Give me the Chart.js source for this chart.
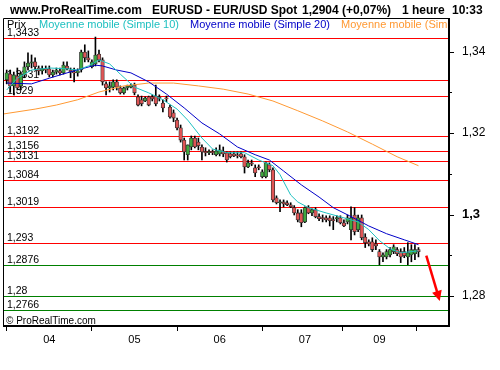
<!DOCTYPE html>
<html>
<head>
  <title>EURUSD - EUR/USD Spot</title>
  <script src="https://cdn.jsdelivr.net/npm/chart.js"></script>
  <style>
    body { margin: 0; background: #fff; }
  </style>
</head>
<body>
  <canvas id="chart" width="500" height="370"></canvas>
  <script>
// hourly candles, 03 12:00 -> 09 10:00
var openP = [1.3331,1.3345,1.3316,1.3340,1.3316,1.3343,1.3363,1.3372,1.3375,1.3360,
  1.3353,1.3358,1.3358,1.3343,1.3350,1.3353,1.3348,1.3365,1.3355,1.3350,
  1.3348,1.3355,1.3399,1.3385,1.3363,1.3370,1.3394,1.3380,1.3321,1.3311,
  1.3313,1.3326,1.3311,1.3299,1.3311,1.3313,1.3318,1.3289,1.3282,1.3279,
  1.3289,1.3289,1.3291,1.3289,1.3274,1.3286,1.3264,1.3250,1.3232,1.3213,
  1.3183,1.3147,1.3166,1.3188,1.3178,1.3166,1.3154,1.3152,1.3154,1.3147,
  1.3149,1.3154,1.3152,1.3149,1.3149,1.3147,1.3149,1.3142,1.3117,1.3127,
  1.3115,1.3117,1.3093,1.3093,1.3122,1.3110,1.3041,1.3029,1.3031,1.3029,
  1.3024,1.3017,1.3004,1.3004,1.2982,1.3017,1.3004,1.3012,1.2995,1.2992,
  1.2992,1.2992,1.2987,1.2990,1.2992,1.2980,1.2982,1.2963,1.2999,1.2963,
  1.2992,1.2945,1.2933,1.2933,1.2928,1.2909,1.2896,1.2896,1.2901,1.2909,
  1.2914,1.2909,1.2909,1.2896,1.2901,1.2904,1.2914];
var highP = [1.3355,1.3355,1.3350,1.3360,1.3350,1.3375,1.3397,1.3392,1.3385,1.3365,
  1.3365,1.3365,1.3365,1.3355,1.3360,1.3360,1.3375,1.3375,1.3360,1.3360,
  1.3358,1.3404,1.3417,1.3402,1.3380,1.3436,1.3404,1.3385,1.3326,1.3326,
  1.3331,1.3331,1.3316,1.3313,1.3318,1.3321,1.3323,1.3294,1.3291,1.3289,
  1.3291,1.3294,1.3318,1.3294,1.3282,1.3291,1.3269,1.3257,1.3237,1.3220,
  1.3188,1.3171,1.3193,1.3193,1.3188,1.3171,1.3164,1.3159,1.3159,1.3164,
  1.3171,1.3166,1.3154,1.3154,1.3154,1.3154,1.3154,1.3147,1.3134,1.3134,
  1.3122,1.3122,1.3110,1.3129,1.3127,1.3115,1.3046,1.3036,1.3036,1.3034,
  1.3029,1.3022,1.3012,1.3012,1.3019,1.3022,1.3014,1.3017,1.3002,1.2999,
  1.2997,1.2997,1.2995,1.2997,1.2997,1.2987,1.2999,1.3019,1.3017,1.2999,
  1.2999,1.2953,1.2938,1.2943,1.2938,1.2914,1.2906,1.2914,1.2919,1.2926,
  1.2919,1.2916,1.2919,1.2931,1.2926,1.2926,1.2919];
var lowP = [1.3321,1.3301,1.3294,1.3306,1.3306,1.3336,1.3355,1.3360,1.3355,1.3343,
  1.3345,1.3348,1.3338,1.3338,1.3345,1.3343,1.3345,1.3355,1.3336,1.3326,
  1.3340,1.3350,1.3375,1.3375,1.3360,1.3365,1.3375,1.3318,1.3294,1.3301,
  1.3306,1.3306,1.3296,1.3296,1.3306,1.3311,1.3294,1.3267,1.3267,1.3277,
  1.3267,1.3279,1.3267,1.3279,1.3252,1.3277,1.3237,1.3228,1.3208,1.3178,
  1.3134,1.3134,1.3159,1.3164,1.3159,1.3134,1.3144,1.3147,1.3147,1.3144,
  1.3144,1.3142,1.3129,1.3139,1.3142,1.3139,1.3139,1.3102,1.3115,1.3120,
  1.3093,1.3110,1.3090,1.3090,1.3105,1.3031,1.3026,1.3007,1.3019,1.3022,
  1.3017,1.2999,1.2982,1.2970,1.2980,1.3002,1.2997,1.2992,1.2985,1.2982,
  1.2982,1.2972,1.2963,1.2982,1.2977,1.2970,1.2977,1.2938,1.2950,1.2958,
  1.2938,1.2919,1.2923,1.2909,1.2914,1.2877,1.2884,1.2891,1.2896,1.2904,
  1.2899,1.2882,1.2894,1.2877,1.2884,1.2889,1.2896];
var closeP = [1.3348,1.3316,1.3343,1.3311,1.3345,1.3363,1.3372,1.3375,1.3363,1.3353,
  1.3358,1.3355,1.3343,1.3350,1.3355,1.3348,1.3367,1.3358,1.3350,1.3348,
  1.3353,1.3399,1.3385,1.3380,1.3375,1.3392,1.3380,1.3326,1.3311,1.3316,
  1.3326,1.3313,1.3299,1.3311,1.3316,1.3318,1.3299,1.3269,1.3272,1.3286,
  1.3269,1.3284,1.3272,1.3286,1.3262,1.3284,1.3240,1.3237,1.3213,1.3183,
  1.3154,1.3171,1.3188,1.3166,1.3169,1.3154,1.3152,1.3154,1.3152,1.3156,
  1.3159,1.3149,1.3134,1.3142,1.3144,1.3144,1.3142,1.3117,1.3127,1.3124,
  1.3102,1.3115,1.3105,1.3127,1.3110,1.3036,1.3029,1.3031,1.3026,1.3024,
  1.3019,1.3004,1.2987,1.2980,1.3017,1.3004,1.3012,1.2995,1.2990,1.2990,
  1.2987,1.2985,1.2985,1.2992,1.2980,1.2972,1.2992,1.2992,1.2958,1.2992,
  1.2943,1.2931,1.2928,1.2914,1.2923,1.2896,1.2901,1.2909,1.2914,1.2921,
  1.2904,1.2896,1.2899,1.2906,1.2914,1.2914,1.2909];

// moving averages, read at these candle positions
var ma10X = [0,3,7,12,17,20,23,26,29,32,36,40,44,48,51,55,58,62,67,71,75,77,80,82,85,90,95,99,102,105,108,111,116];
var ma10Y = [1.3306,1.3335,1.3355,1.3360,1.3358,1.3355,1.3365,1.3380,1.3370,1.3345,1.3313,1.3299,1.3282,1.3259,1.3232,1.3188,1.3161,1.3152,1.3152,1.3134,1.3120,1.3098,1.3048,1.3031,1.3017,1.3004,1.2992,1.2982,1.2963,1.2936,1.2916,1.2906,1.2911];
var ma20X = [0,7,12,17,22,25,27,31,35,40,45,50,55,60,65,70,74,78,83,88,92,97,102,107,112,116];
var ma20Y = [1.3323,1.3321,1.3335,1.3348,1.3360,1.3367,1.3365,1.3355,1.3348,1.3326,1.3296,1.3262,1.3225,1.3198,1.3166,1.3147,1.3134,1.3107,1.3073,1.3043,1.3017,1.2995,1.2972,1.2953,1.2938,1.2926];
var maLongX = [-1,8,14,20,26,33,40,47,54,61,68,75,82,89,96,103,110,116];
var maLongY = [1.3247,1.3259,1.3269,1.3282,1.3301,1.3316,1.3323,1.3323,1.3316,1.3308,1.3296,1.3279,1.3255,1.3230,1.3203,1.3173,1.3142,1.3120];

var redLevels = [1.3433,1.3331,1.329,1.3192,1.3156,1.3131,1.3084,1.3019,1.293];
var greenLevels = [1.2876,1.28,1.2766];

var dayTicks = [12,36,60,84,105];
var dayLabels = ['04','05','06','07','09'];
var priceTicks = [1.28,1.29,1.3,1.31,1.32,1.33,1.34];

var arrowFrom = [118.2, 1.2899];
var arrowTo = [122, 1.2788];

var FONT = '"Liberation Sans", Arial, sans-serif';

var wicks = [], bodies = [], bodyColors = [];
for (var i = 0; i < openP.length; i++) {
  wicks.push({x: i, y: [lowP[i], highP[i]]});
  bodies.push({x: i, y: [openP[i], closeP[i]]});
  bodyColors.push(closeP[i] >= openP[i] ? '#3fa83f' : '#e05555');
}

function pts(xs, ys) {
  return xs.map(function(x, k) { return {x: x, y: ys[k]}; });
}

var overlay = {
  id: 'overlay',
  beforeDatasetsDraw: function(chart) {
    var ctx = chart.ctx, a = chart.chartArea, ys = chart.scales.y;
    ctx.save();
    ctx.beginPath();
    ctx.rect(a.left, a.top, a.right - a.left, a.bottom - a.top);
    ctx.clip();
    ctx.font = '10.5px ' + FONT;
    ctx.textAlign = 'left';
    ctx.textBaseline = 'alphabetic';
    var all = redLevels.map(function(v) { return [v, '#ff0000']; })
      .concat(greenLevels.map(function(v) { return [v, '#008000']; }));
    all.forEach(function(l) {
      var y = Math.round(ys.getPixelForValue(l[0])) + 0.5;
      ctx.strokeStyle = l[1];
      ctx.lineWidth = 1;
      ctx.beginPath();
      ctx.moveTo(a.left, y);
      ctx.lineTo(a.right, y);
      ctx.stroke();
      ctx.fillStyle = '#000';
      ctx.fillText(String(l[0]).replace('.', ','), a.left + 4, y - 2.5);
    });
    ctx.restore();
  },
  afterDatasetsDraw: function(chart) {
    var ctx = chart.ctx, a = chart.chartArea, xs = chart.scales.x, ys = chart.scales.y;
    ctx.save();
    // arrow
    var x0 = xs.getPixelForValue(arrowFrom[0]), y0 = ys.getPixelForValue(arrowFrom[1]);
    var x1 = xs.getPixelForValue(arrowTo[0]), y1 = ys.getPixelForValue(arrowTo[1]);
    var ang = Math.atan2(y1 - y0, x1 - x0), c = Math.cos(ang), s = Math.sin(ang);
    ctx.strokeStyle = '#ff0000';
    ctx.fillStyle = '#ff0000';
    ctx.lineWidth = 2.5;
    ctx.beginPath();
    ctx.moveTo(x0, y0);
    ctx.lineTo(x1 - 7 * c, y1 - 7 * s);
    ctx.stroke();
    ctx.beginPath();
    ctx.moveTo(x1, y1);
    ctx.lineTo(x1 - 10 * c + 5 * s, y1 - 10 * s - 5 * c);
    ctx.lineTo(x1 - 10 * c - 5 * s, y1 - 10 * s + 5 * c);
    ctx.closePath();
    ctx.fill();

    // legend line inside the plot
    ctx.beginPath();
    ctx.rect(a.left, a.top, a.right - a.left, a.bottom - a.top);
    ctx.clip();
    ctx.font = '11px ' + FONT;
    ctx.textAlign = 'left';
    ctx.fillStyle = '#000';
    ctx.fillText('Prix', 7, 28);
    ctx.fillStyle = '#1fc0c0';
    ctx.fillText('Moyenne mobile (Simple 10)', 39, 28);
    ctx.fillStyle = '#0000c8';
    ctx.fillText('Moyenne mobile (Simple 20)', 190, 28);
    ctx.fillStyle = '#ff9933';
    ctx.fillText('Moyenne mobile (Simple 50)', 341, 28);
    ctx.fillStyle = '#000';
    ctx.font = '10px ' + FONT;
    ctx.fillText('\u00a9 ProRealTime.com', 6, 324);
    ctx.restore();
  },
  afterDraw: function(chart) {
    var ctx = chart.ctx, a = chart.chartArea, ys = chart.scales.y;
    ctx.save();
    // frame
    ctx.strokeStyle = '#000';
    ctx.lineWidth = 1;
    ctx.beginPath();
    ctx.moveTo(a.left + 0.5, a.bottom);
    ctx.lineTo(a.left + 0.5, a.top + 0.5);
    ctx.lineTo(a.right, a.top + 0.5);
    ctx.stroke();
    ctx.lineWidth = 2;
    ctx.beginPath();
    ctx.moveTo(a.right, a.top);
    ctx.lineTo(a.right, a.bottom + 1);
    ctx.moveTo(a.left, a.bottom);
    ctx.lineTo(a.right + 1, a.bottom);
    ctx.stroke();
    // price tick marks
    ctx.lineWidth = 1;
    priceTicks.forEach(function(v) {
      var y = Math.round(ys.getPixelForValue(v)) + 0.5;
      var major = Math.round(v * 100) % 2 === 0;
      ctx.beginPath();
      ctx.moveTo(a.right, y);
      ctx.lineTo(a.right + (major ? 5 : 3), y);
      ctx.stroke();
    });
    // header
    ctx.fillStyle = '#000';
    ctx.font = 'bold 12px ' + FONT;
    ctx.textAlign = 'left';
    ctx.fillText('www.ProRealTime.com', 10, 14);
    ctx.fillText('EURUSD - EUR/USD Spot', 152, 14);
    ctx.fillText('1,2904 (+0,07%)', 302, 14);
    ctx.fillText('1 heure', 402, 14);
    ctx.fillText('10:33', 452, 14);
    ctx.restore();
  }
};

new Chart(document.getElementById('chart').getContext('2d'), {
  type: 'bar',
  data: {
    datasets: [
      {type: 'line', data: pts(ma10X, ma10Y), borderColor: '#1fc0c0', borderWidth: 1, pointRadius: 0, tension: 0, order: 0},
      {type: 'line', data: pts(ma20X, ma20Y), borderColor: '#0000c8', borderWidth: 1, pointRadius: 0, tension: 0, order: 0},
      {type: 'line', data: pts(maLongX, maLongY), borderColor: '#ff9933', borderWidth: 1, pointRadius: 0, tension: 0, order: 0},
      {data: bodies, backgroundColor: bodyColors, borderColor: '#333', borderWidth: 0.8, borderSkipped: false,
        barThickness: 3.6, minBarLength: 1, grouped: false, order: 1},
      {data: wicks, backgroundColor: '#000', borderWidth: 0, barThickness: 1, grouped: false, order: 2}
    ]
  },
  options: {
    responsive: false,
    animation: false,
    devicePixelRatio: 1,
    layout: {padding: {left: 3, top: 18, right: 0, bottom: 0}},
    plugins: {legend: {display: false}, tooltip: {enabled: false}},
    scales: {
      x: {
        type: 'linear',
        offset: false,
        min: -1.04,
        max: 124.6,
        border: {display: false},
        grid: {display: true, drawOnChartArea: false, drawTicks: true, tickLength: 5, color: '#000'},
        ticks: {
          padding: 2,
          color: '#000',
          font: {family: FONT, size: 11},
          maxRotation: 0,
          autoSkip: false,
          callback: function(v) { var k = dayTicks.indexOf(v); return k < 0 ? '' : dayLabels[k]; }
        },
        afterBuildTicks: function(sc) { sc.ticks = dayTicks.map(function(v) { return {value: v}; }); },
        afterFit: function(sc) { sc.height = 44; }
      },
      y: {
        position: 'right',
        min: 1.27263,
        max: 1.34828,
        border: {display: false},
        grid: {display: false},
        ticks: {
          padding: 5,
          color: '#000',
          autoSkip: false,
          font: function(c) {
            return c.tick && c.tick.value === 1.3 ? {family: FONT, size: 13, weight: 'bold'} : {family: FONT, size: 12};
          },
          callback: function(v) {
            var k = Math.round(v * 100);
            return k % 2 === 0 ? String(k / 100).replace('.', ',') : '';
          }
        },
        afterBuildTicks: function(sc) { sc.ticks = priceTicks.map(function(v) { return {value: v}; }); },
        afterFit: function(sc) { sc.width = 51; }
      }
    }
  },
  plugins: [overlay]
});
  </script>
</body>
</html>
